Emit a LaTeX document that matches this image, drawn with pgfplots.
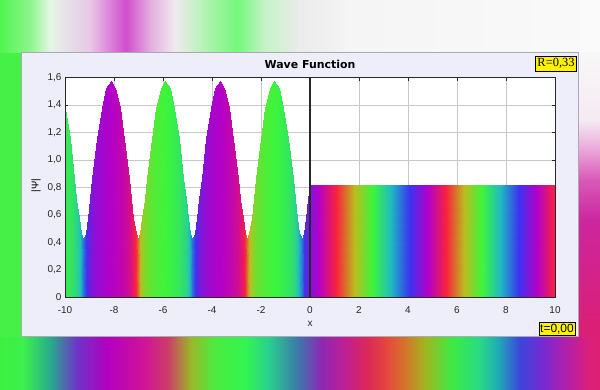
\documentclass[border=0pt]{standalone}
\usepackage{pgfplots}
\pgfplotsset{compat=1.18}
\usepackage{fontspec}
\setmainfont{Liberation Sans}
\newfontfamily\seriffont{Liberation Serif}
\newfontfamily\titlefont{DejaVu Sans}

\definecolor{panel}{RGB}{238,238,250}
\definecolor{panelborder}{RGB}{170,170,180}
\definecolor{gridc}{RGB}{200,200,200}
\definecolor{framec}{RGB}{40,40,40}
\definecolor{bggreen}{RGB}{70,240,70}

\pgfdeclarehorizontalshading{topband}{100bp}{
rgb(0bp)=(0.31,0.96,0.31);
rgb(25bp)=(0.31,0.96,0.31);
rgb(27.5bp)=(0.55,0.96,0.55);
rgb(29.17bp)=(0.90,0.96,0.90);
rgb(32.5bp)=(0.91,0.78,0.91);
rgb(35.5bp)=(0.82,0.30,0.80);
rgb(37.5bp)=(0.89,0.68,0.87);
rgb(39.58bp)=(0.94,0.92,0.94);
rgb(42.08bp)=(0.70,0.95,0.70);
rgb(44.75bp)=(0.45,0.97,0.48);
rgb(47.08bp)=(0.78,0.95,0.78);
rgb(50bp)=(0.92,0.92,0.92);
rgb(54.17bp)=(0.96,0.96,0.96);
rgb(75bp)=(0.98,0.98,0.98);
rgb(100bp)=(0.98,0.98,0.98)}

\pgfdeclarehorizontalshading{bottomband}{100bp}{
rgb(0bp)=(0.24,0.94,0.24);
rgb(25bp)=(0.24,0.94,0.24);
rgb(26.92bp)=(0.24,0.94,0.30);
rgb(29.17bp)=(0.16,0.67,0.55);
rgb(31.42bp)=(0.43,0.20,0.78);
rgb(33.92bp)=(0.70,0.0,0.75);
rgb(37.08bp)=(0.82,0.08,0.59);
rgb(39bp)=(0.80,0.24,0.40);
rgb(40.92bp)=(0.60,0.72,0.16);
rgb(42.83bp)=(0.30,0.92,0.24);
rgb(45.42bp)=(0.20,0.96,0.32);
rgb(47.33bp)=(0.16,0.82,0.55);
rgb(49.83bp)=(0.24,0.47,0.67);
rgb(51.75bp)=(0.55,0.16,0.70);
rgb(53.67bp)=(0.75,0.12,0.59);
rgb(55.58bp)=(0.86,0.16,0.35);
rgb(57.25bp)=(0.90,0.28,0.24);
rgb(58.83bp)=(0.82,0.47,0.16);
rgb(60.42bp)=(0.63,0.71,0.12);
rgb(62.67bp)=(0.24,0.92,0.27);
rgb(64.83bp)=(0.16,0.86,0.51);
rgb(66.5bp)=(0.12,0.67,0.71);
rgb(68.33bp)=(0.24,0.27,0.86);
rgb(70.25bp)=(0.47,0.16,0.82);
rgb(72.17bp)=(0.70,0.12,0.67);
rgb(74.08bp)=(0.86,0.12,0.47);
rgb(75bp)=(0.88,0.12,0.45);
rgb(100bp)=(0.88,0.12,0.45)}

\pgfdeclareverticalshading{rightstrip}{100bp}{
rgb(0bp)=(0.86,0.12,0.45);
rgb(25bp)=(0.86,0.12,0.45);
rgb(45.6bp)=(0.80,0.15,0.62);
rgb(52.64bp)=(0.85,0.35,0.72);
rgb(57.92bp)=(0.92,0.65,0.85);
rgb(63.2bp)=(0.96,0.92,0.95);
rgb(75bp)=(0.97,0.97,0.97);
rgb(100bp)=(0.97,0.97,0.97)}

\begin{document}
\begin{tikzpicture}
% background
\fill[white] (0bp,0bp) rectangle (600bp,390bp);
\shade[shading=topband] (0bp,337bp) rectangle (600bp,390bp);
\shade[shading=bottomband] (0bp,0bp) rectangle (600bp,53bp);
\fill[bggreen] (0bp,53bp) rectangle (21.5bp,337bp);
\shade[shading=rightstrip] (578bp,53bp) rectangle (600bp,337bp);
% panel
\filldraw[fill=panel, draw=panelborder, line width=1bp] (21.5bp,53.5bp) rectangle (578bp,337bp);

\begin{axis}[
  at={(65bp,92.7bp)}, anchor=south west,
  width=490bp, height=219.6bp, scale only axis,
  xmin=-10, xmax=10, ymin=0, ymax=1.6,
  axis background/.style={fill=white},
  grid=major, grid style={gridc, line width=0.8bp},
  axis line style={framec, line width=0.8bp},
  tick style={framec, line width=0.8bp},
  major tick length=3bp,
  xtick={-10,-8,-6,-4,-2,0,2,4,6,8,10},
  xticklabels={-10,-8,-6,-4,-2,0,2,4,6,8,10},
  ytick={0,0.2,0.4,0.6,0.8,1.0,1.2,1.4,1.6},
  yticklabels={0,{0,2},{0,4},{0,6},{0,8},{1,0},{1,2},{1,4},{1,6}},
  tick label style={font=\fontsize{10}{12}\selectfont, text=black!85},
  xticklabel style={yshift=-6bp},
  /pgf/number format/assume math mode=true,
  colormap={phase}{
    rgb255=(250,35,60) rgb255=(185,190,30) rgb255=(60,245,60) rgb255=(30,185,195) rgb255=(60,50,240) rgb255=(180,0,200)
    rgb255=(250,35,60) rgb255=(185,190,30) rgb255=(60,245,60) rgb255=(30,185,195) rgb255=(60,50,240) rgb255=(180,0,200)
    rgb255=(250,35,60) rgb255=(185,190,30) rgb255=(60,245,60) rgb255=(30,185,195) rgb255=(60,50,240) rgb255=(180,0,200)
    rgb255=(250,35,60) rgb255=(185,190,30) rgb255=(60,245,60) rgb255=(30,185,195) rgb255=(60,50,240) rgb255=(180,0,200)
    rgb255=(250,35,60) rgb255=(185,190,30) rgb255=(60,245,60) rgb255=(30,185,195) rgb255=(60,50,240) rgb255=(180,0,200)
    rgb255=(250,35,60)},
  point meta min=-1080, point meta max=720,
]
\addplot[patch, patch type=rectangle, mesh input=lattice, shader=interp,
  mesh/ordering=y varies, mesh/rows=2, mesh/cols=80, point meta=explicit]
  table[x=x, y=y, meta=c] {
x y c
-10.1806 0 -955.85
-10.1806 1.5244 -955.85
-9.9949 0 -951.12
-9.9949 1.3797 -951.12
-9.8093 0 -944.85
-9.8093 1.1530 -944.85
-9.6236 0 -934.87
-9.6236 0.8692 -934.87
-9.5307 0 -926.85
-9.5307 0.7196 -926.85
-9.4379 0 -914.71
-9.4379 0.5791 -914.71
-9.3451 0 -895.94
-9.3451 0.4697 -895.94
-9.2522 0 -870
-9.2522 0.4260 -870
-9.1594 0 -844.06
-9.1594 0.4697 -844.06
-9.0666 0 -825.29
-9.0666 0.5791 -825.29
-8.9737 0 -813.15
-8.9737 0.7196 -813.15
-8.8809 0 -805.13
-8.8809 0.8692 -805.13
-8.6952 0 -795.15
-8.6952 1.1530 -795.15
-8.5095 0 -788.88
-8.5095 1.3797 -788.88
-8.3239 0 -784.15
-8.3239 1.5244 -784.15
-8.1382 0 -780
-8.1382 1.5740 -780
-7.9525 0 -775.85
-7.9525 1.5244 -775.85
-7.7668 0 -771.12
-7.7668 1.3797 -771.12
-7.5812 0 -764.85
-7.5812 1.1530 -764.85
-7.3955 0 -754.87
-7.3955 0.8692 -754.87
-7.3027 0 -746.85
-7.3027 0.7196 -746.85
-7.2098 0 -734.71
-7.2098 0.5791 -734.71
-7.1170 0 -715.94
-7.1170 0.4697 -715.94
-7.0241 0 -690
-7.0241 0.4260 -690
-6.9313 0 -664.06
-6.9313 0.4697 -664.06
-6.8385 0 -645.29
-6.8385 0.5791 -645.29
-6.7456 0 -633.15
-6.7456 0.7196 -633.15
-6.6528 0 -625.13
-6.6528 0.8692 -625.13
-6.4671 0 -615.15
-6.4671 1.1530 -615.15
-6.2814 0 -608.88
-6.2814 1.3797 -608.88
-6.0958 0 -604.15
-6.0958 1.5244 -604.15
-5.9101 0 -600
-5.9101 1.5740 -600
-5.7244 0 -595.85
-5.7244 1.5244 -595.85
-5.5387 0 -591.12
-5.5387 1.3797 -591.12
-5.3531 0 -584.85
-5.3531 1.1530 -584.85
-5.1674 0 -574.87
-5.1674 0.8692 -574.87
-5.0746 0 -566.85
-5.0746 0.7196 -566.85
-4.9817 0 -554.71
-4.9817 0.5791 -554.71
-4.8889 0 -535.94
-4.8889 0.4697 -535.94
-4.7960 0 -510
-4.7960 0.4260 -510
-4.7032 0 -484.06
-4.7032 0.4697 -484.06
-4.6104 0 -465.29
-4.6104 0.5791 -465.29
-4.5175 0 -453.15
-4.5175 0.7196 -453.15
-4.4247 0 -445.13
-4.4247 0.8692 -445.13
-4.2390 0 -435.15
-4.2390 1.1530 -435.15
-4.0533 0 -428.88
-4.0533 1.3797 -428.88
-3.8677 0 -424.15
-3.8677 1.5244 -424.15
-3.6820 0 -420
-3.6820 1.5740 -420
-3.4963 0 -415.85
-3.4963 1.5244 -415.85
-3.3106 0 -411.12
-3.3106 1.3797 -411.12
-3.1250 0 -404.85
-3.1250 1.1530 -404.85
-2.9393 0 -394.87
-2.9393 0.8692 -394.87
-2.8465 0 -386.85
-2.8465 0.7196 -386.85
-2.7536 0 -374.71
-2.7536 0.5791 -374.71
-2.6608 0 -355.94
-2.6608 0.4697 -355.94
-2.5679 0 -330
-2.5679 0.4260 -330
-2.4751 0 -304.06
-2.4751 0.4697 -304.06
-2.3823 0 -285.29
-2.3823 0.5791 -285.29
-2.2894 0 -273.15
-2.2894 0.7196 -273.15
-2.1966 0 -265.13
-2.1966 0.8692 -265.13
-2.0109 0 -255.15
-2.0109 1.1530 -255.15
-1.8252 0 -248.88
-1.8252 1.3797 -248.88
-1.6396 0 -244.15
-1.6396 1.5244 -244.15
-1.4539 0 -240
-1.4539 1.5740 -240
-1.2682 0 -235.85
-1.2682 1.5244 -235.85
-1.0825 0 -231.12
-1.0825 1.3797 -231.12
-0.8969 0 -224.85
-0.8969 1.1530 -224.85
-0.7112 0 -214.87
-0.7112 0.8692 -214.87
-0.6184 0 -206.85
-0.6184 0.7196 -206.85
-0.5255 0 -194.71
-0.5255 0.5791 -194.71
-0.4327 0 -175.94
-0.4327 0.4697 -175.94
-0.3398 0 -150
-0.3398 0.4260 -150
-0.2470 0 -124.06
-0.2470 0.4697 -124.06
-0.1542 0 -105.29
-0.1542 0.5791 -105.29
-0.0613 0 -93.15
-0.0613 0.7196 -93.15
0 0 -87.51
0 0.82 -87.51
2.5 0 114.5
2.5 0.82 114.5
5 0 316.5
5 0.82 316.5
7.5 0 518.4
7.5 0.82 518.4
10 0 720.4
10 0.82 720.4
};
\addplot[framec, line width=1.5bp] coordinates {(0,0) (0,1.6)};
\draw[framec, line width=0.8bp] (rel axis cs:0,0) rectangle (rel axis cs:1,1);
\end{axis}

% texts
\node[font=\titlefont\bfseries\fontsize{11}{13}\selectfont] at (310bp,326bp) {Wave Function};
\node[rotate=90, font=\fontsize{10}{12}\selectfont] at (36bp,204.3bp) {|Ψ|};
\node[font=\fontsize{10}{12}\selectfont, text=black!85] at (310bp,66bp) {x};
\node[fill=yellow, draw=black, line width=0.8bp, inner sep=0pt, minimum width=41bp, minimum height=15bp, font=\seriffont\fontsize{12.5}{14}\selectfont] at (556bp,326.5bp) {R=0,33};
\node[fill=yellow, draw=black, line width=0.8bp, inner sep=0pt, minimum width=36bp, minimum height=13.5bp, font=\fontsize{12}{14}\selectfont] at (557bp,61bp) {t=0,00};
\end{tikzpicture}
\end{document}
